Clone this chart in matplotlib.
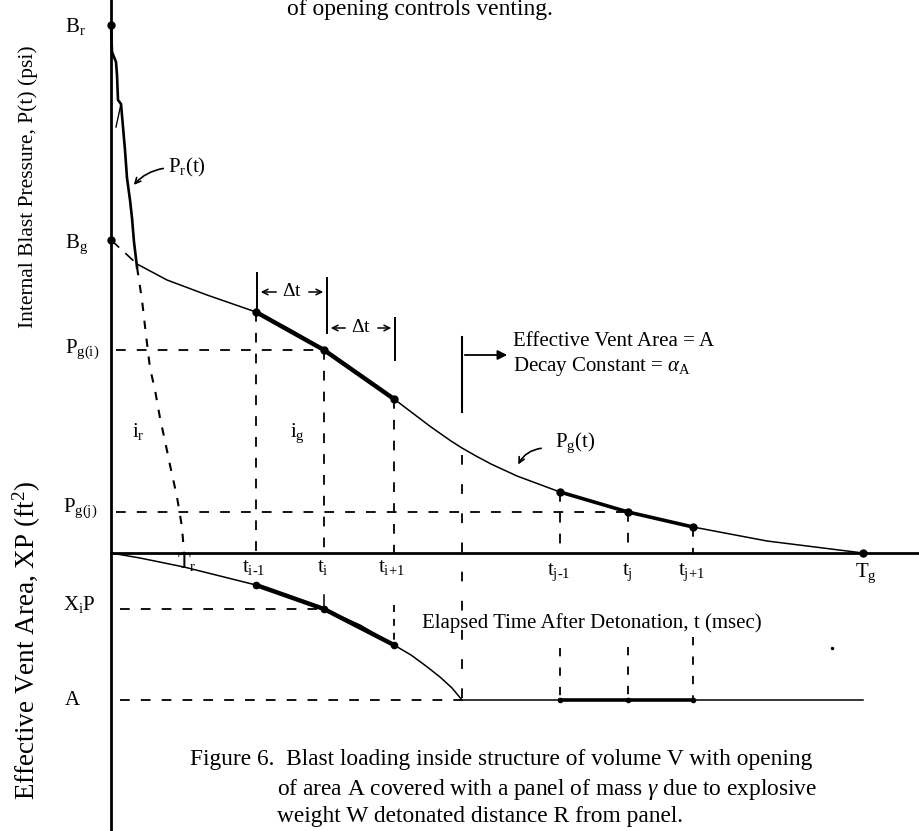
import numpy as np
import matplotlib
matplotlib.use("Agg")
import matplotlib.pyplot as plt

plt.rcParams['font.family'] = 'Liberation Serif'
plt.rcParams['mathtext.fontset'] = 'custom'
plt.rcParams['mathtext.rm'] = 'Liberation Serif'
plt.rcParams['mathtext.it'] = 'Liberation Serif:italic'
plt.rcParams['lines.scale_dashes'] = False

# --- schematic values (time units along t, pressure up / vent area down) ---
B_r = 528
B_g = 313
T_r = 73
t_i = [145, 213, 283]          # t_{i-1}, t_i, t_{i+1}
t_open = 351                    # panel fully open
t_j = [449, 517, 582]          # t_{j-1}, t_j, t_{j+1}
T_g = 752

# reflected pressure P_r(t), solid part then dashed tail
pr_t = [0, 1, 5, 6, 7, 10, 12, 14, 16, 19, 21, 23, 26]
pr_p = [528, 501, 491, 478, 453, 449, 426, 403, 375, 353, 335, 311, 286]
pr_tail_t = [26, 31, 35, 39, 44, 49, 54, 59, 66, 71, 73]
pr_tail_p = [286, 253, 218, 185, 163, 135, 112, 88, 56, 26, 0]

# gas pressure P_g(t)
pg_t = [26, 56, 96, 145, 180, 213, 250, 283, 320, 340, 351, 365, 380, 406, 449, 517, 582, 656, 752]
pg_p = [289, 273, 258, 241, 223, 203, 178, 154, 126, 112, 105, 97, 89, 77, 61, 41, 26, 12, 0]
pg_i = [241, 203, 154]
pg_j = [61, 41, 26]

# effective vent area XP (drawn downward)
xp_t = [0, 29, 73, 109, 145, 179, 213, 249, 283, 300, 315, 329, 341, 351]
xp_v = [0, -5, -14, -23, -32, -43, -56, -72, -92, -102, -113, -124, -135, -147]
xp_i = [-32, -56, -92]
A = -147

fig = plt.figure(figsize=(9.19, 8.31), dpi=100)
ax = fig.add_axes([0, 0, 1, 1])
ax.set_xlim(-111, 808)
ax.set_ylim(-278, 553)
ax.axis('off')

k = 'black'
dash = (0, (7, 8))

# axes
ax.plot([0, 0], [553, -278], color=k, lw=2.0)
ax.plot([0, 808], [0, 0], color=k, lw=2.0)

# P_r
ax.plot(pr_t, pr_p, color=k, lw=1.9)
ax.plot([10, 5], [449, 426], color=k, lw=1.0)
ax.plot(pr_tail_t, pr_tail_p, color=k, lw=1.5, linestyle=(0, (6, 7)))

# P_g
ax.plot([0, 26], [B_g, 289], color=k, lw=1.2, linestyle=(0, (8, 6)))
ax.plot(pg_t, pg_p, color=k, lw=1.1)
ax.plot(t_i, pg_i, color=k, lw=3.2)
ax.plot(t_j, pg_j, color=k, lw=2.6)
ax.plot(t_i + t_j + [T_g, 0, 0], pg_i + pg_j + [0, B_r, B_g], 'o', color=k, ms=5)

# vent area curve
ax.plot(xp_t, xp_v, color=k, lw=1.1)
ax.plot([t_open, T_g], [A, A], color=k, lw=1.1)
ax.plot(t_i, xp_i, color=k, lw=3.2)
ax.plot([t_j[0], t_j[2]], [A, A], color=k, lw=2.6)
ax.plot(t_i, xp_i, 'o', color=k, ms=4.5)
ax.plot(t_j, [A] * 3, 'o', color=k, ms=3)
ax.plot([721], [-95], 'o', color=k, ms=1.5)

# horizontal dashed guides
ax.plot([5, t_i[1]], [pg_i[1], pg_i[1]], color=k, lw=1.3, linestyle=dash)
ax.plot([5, t_j[1]], [pg_j[1], pg_j[1]], color=k, lw=1.3, linestyle=dash)
ax.plot([9, t_i[1]], [xp_i[1], xp_i[1]], color=k, lw=1.3, linestyle=dash)
ax.plot([9, t_open], [A, A], color=k, lw=1.3, linestyle=dash)

# vertical dashed guides
for tt, pp in zip(t_i + t_j, pg_i + pg_j):
    ax.plot([tt, tt], [pp, 0], color=k, lw=1.3, linestyle=dash)
ax.plot([t_i[2], t_i[2]], [-52, xp_i[2]], color=k, lw=1.3, linestyle=(0, (5, 5)))
ax.plot([t_i[1], t_i[1]], [-42, xp_i[1]], color=k, lw=1.1)
for tt, top in zip(t_j, [-95, -94, -84]):
    ax.plot([tt, tt], [top, A], color=k, lw=1.3, linestyle=(0, (6, 8)))
ax.plot([t_open, t_open], [98, A], color=k, lw=1.3, linestyle=(0, (7, 14)))

# panel-open marker
ax.plot([t_open, t_open], [216, 141], color=k, lw=1.5)
ax.annotate('', xy=(399, 198), xytext=(t_open, 198),
            arrowprops=dict(arrowstyle='-|>', color=k, lw=1.3, mutation_scale=14))

# delta t brackets
ax.plot([146, 146], [280, 241], color=k, lw=1.4)
ax.plot([216, 216], [275, 220], color=k, lw=1.4)
ax.plot([284, 284], [235, 193], color=k, lw=1.4)
for lo, hi, yy in [(146, 216, 261), (216, 284, 225)]:
    mid = (lo + hi) / 2.0
    ax.text(mid, yy, r'$\Delta$t', ha='center', va='center', fontsize=14)
    ax.annotate('', xy=(lo + 1, yy), xytext=(mid - 13, yy),
                arrowprops=dict(arrowstyle='->', color=k, lw=1.1))
    ax.annotate('', xy=(hi - 1, yy), xytext=(mid + 14, yy),
                arrowprops=dict(arrowstyle='->', color=k, lw=1.1))

# left labels
fs = 15
ax.text(-46, 521, r'B$_\mathrm{r}$', fontsize=fs, va='baseline')
ax.text(-46, 305, r'B$_\mathrm{g}$', fontsize=fs, va='baseline')
ax.text(-46, 200, r'P$_\mathrm{g(i)}$', fontsize=fs, va='baseline')
ax.text(-48, 41, r'P$_\mathrm{g(j)}$', fontsize=fs, va='baseline')
ax.text(-48, -57, r'X$_\mathrm{i}$P', fontsize=fs, va='baseline')
ax.text(-46, -152, 'A', fontsize=fs, va='baseline')

ax.text(-83, 366, 'Internal Blast Pressure, P(t) (psi)', rotation=90,
        ha='center', va='center', fontsize=15.5)
ax.text(-84, -87, r'Effective Vent Area, XP (ft$^\mathrm{2}$)', rotation=90,
        ha='center', va='center', fontsize=19.5)

# impulse labels
ax.text(21, 116, r'i$_\mathrm{r}$', fontsize=fs, va='baseline')
ax.text(179, 116, r'i$_\mathrm{g}$', fontsize=fs, va='baseline')

# time labels under the axis
tick_labels = [r'T$_\mathrm{r}$', r't$_\mathrm{i\text{-}1}$', r't$_\mathrm{i}$', r't$_\mathrm{i{+}1}$',
               r't$_\mathrm{j\text{-}1}$', r't$_\mathrm{j}$', r't$_\mathrm{j{+}1}$', r'T$_\mathrm{g}$']
tick_x = [66, 131, 206, 267, 436, 511, 567, 744]
tick_y = [-15, -19, -19, -19, -22, -22, -22, -24]
for lab, xx, yy in zip(tick_labels, tick_x, tick_y):
    ax.text(xx, yy, lab, fontsize=fs, va='baseline')

ax.text(311, -70, 'Elapsed Time After Detonation, t (msec)', fontsize=15, va='center')

ax.text(402, 211, 'Effective Vent Area = A', fontsize=15, va='center')
ax.text(402, 186, r'Decay Constant = $\alpha_\mathrm{A}$', fontsize=15, va='center')

# curve labels
ax.text(57, 381, r'P$_\mathrm{r}$(t)', fontsize=fs, va='baseline')
ax.annotate('', xy=(21, 366), xytext=(55, 385),
            arrowprops=dict(arrowstyle='->', color=k, lw=1.2,
                            connectionstyle='arc3,rad=0.2'))
ax.text(444, 106, r'P$_\mathrm{g}$(t)', fontsize=fs, va='baseline')
ax.annotate('', xy=(406, 86), xytext=(433, 105),
            arrowprops=dict(arrowstyle='->', color=k, lw=1.2,
                            connectionstyle='arc3,rad=0.3'))

# page text
ax.text(176, 538, 'of opening controls venting.', fontsize=17, va='baseline')
ax.text(79, -212, 'Figure 6.  Blast loading inside structure of volume V with opening',
        fontsize=16.8, va='baseline')
ax.text(166, -242, r'of area A covered with a panel of mass $\gamma$ due to explosive',
        fontsize=16.8, va='baseline')
ax.text(166, -269, 'weight W detonated distance R from panel.', fontsize=16.8, va='baseline')

fig.savefig('out.png', dpi=100)
